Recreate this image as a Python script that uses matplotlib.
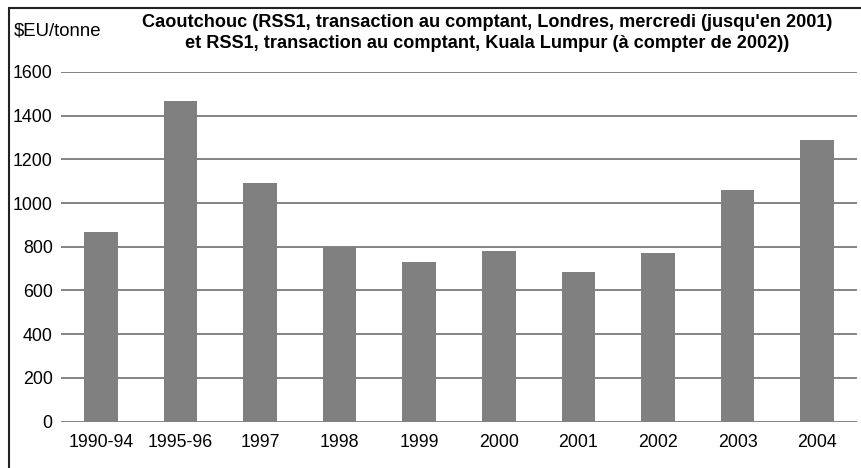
import matplotlib
matplotlib.use('Agg')
import matplotlib.pyplot as plt
from matplotlib.patches import Rectangle

# data
categories = ['1990-94', '1995-96', '1997', '1998', '1999', '2000', '2001', '2002', '2003', '2004']
prices = [867, 1467, 1092, 798, 731, 781, 685, 771, 1060, 1288]
yticks = [0, 200, 400, 600, 800, 1000, 1200, 1400, 1600]

title = ("Caoutchouc (RSS1, transaction au comptant, Londres, mercredi (jusqu'en 2001)\n"
         "et RSS1, transaction au comptant, Kuala Lumpur (\u00e0 compter de 2002))")

plt.rcParams['font.family'] = ['Liberation Sans', 'DejaVu Sans']

fig = plt.figure(figsize=(8.62, 4.68), dpi=100)
ax = fig.add_axes([61 / 862, 1 - 421.5 / 468, 796 / 862, 349.5 / 468])

x = range(len(categories))
ax.bar(x, prices, width=0.42, color='#808080', zorder=3)

ax.set_xlim(-0.5, len(categories) - 0.5)
ax.set_ylim(0, 1600)
ax.set_yticks(yticks)
ax.set_xticks(list(x))
ax.set_xticklabels(categories)
ax.tick_params(axis='both', length=0, labelsize=12.8, colors='black')
ax.tick_params(axis='y', pad=6)
ax.tick_params(axis='x', pad=9)

for v in yticks:
    ax.axhline(v, color='#7a7a7a', lw=1.3, zorder=1)

for s in ax.spines.values():
    s.set_visible(False)

fig.text(14 / 862, 1 - 31 / 468, '$EU/tonne', fontsize=13.4, ha='left', va='center')
fig.text(487 / 862, 1 - 33 / 468, title, fontsize=13.1, fontweight='bold',
         ha='center', va='center', linespacing=1.3)

# outer frame (left and top edges visible)
fig.patches.append(Rectangle((9 / 862, -0.1), 1.2, 1 - 8 / 468 + 0.1,
                             transform=fig.transFigure, fill=False,
                             edgecolor='#222222', lw=1.5))

fig.savefig('out.png', dpi=100)
